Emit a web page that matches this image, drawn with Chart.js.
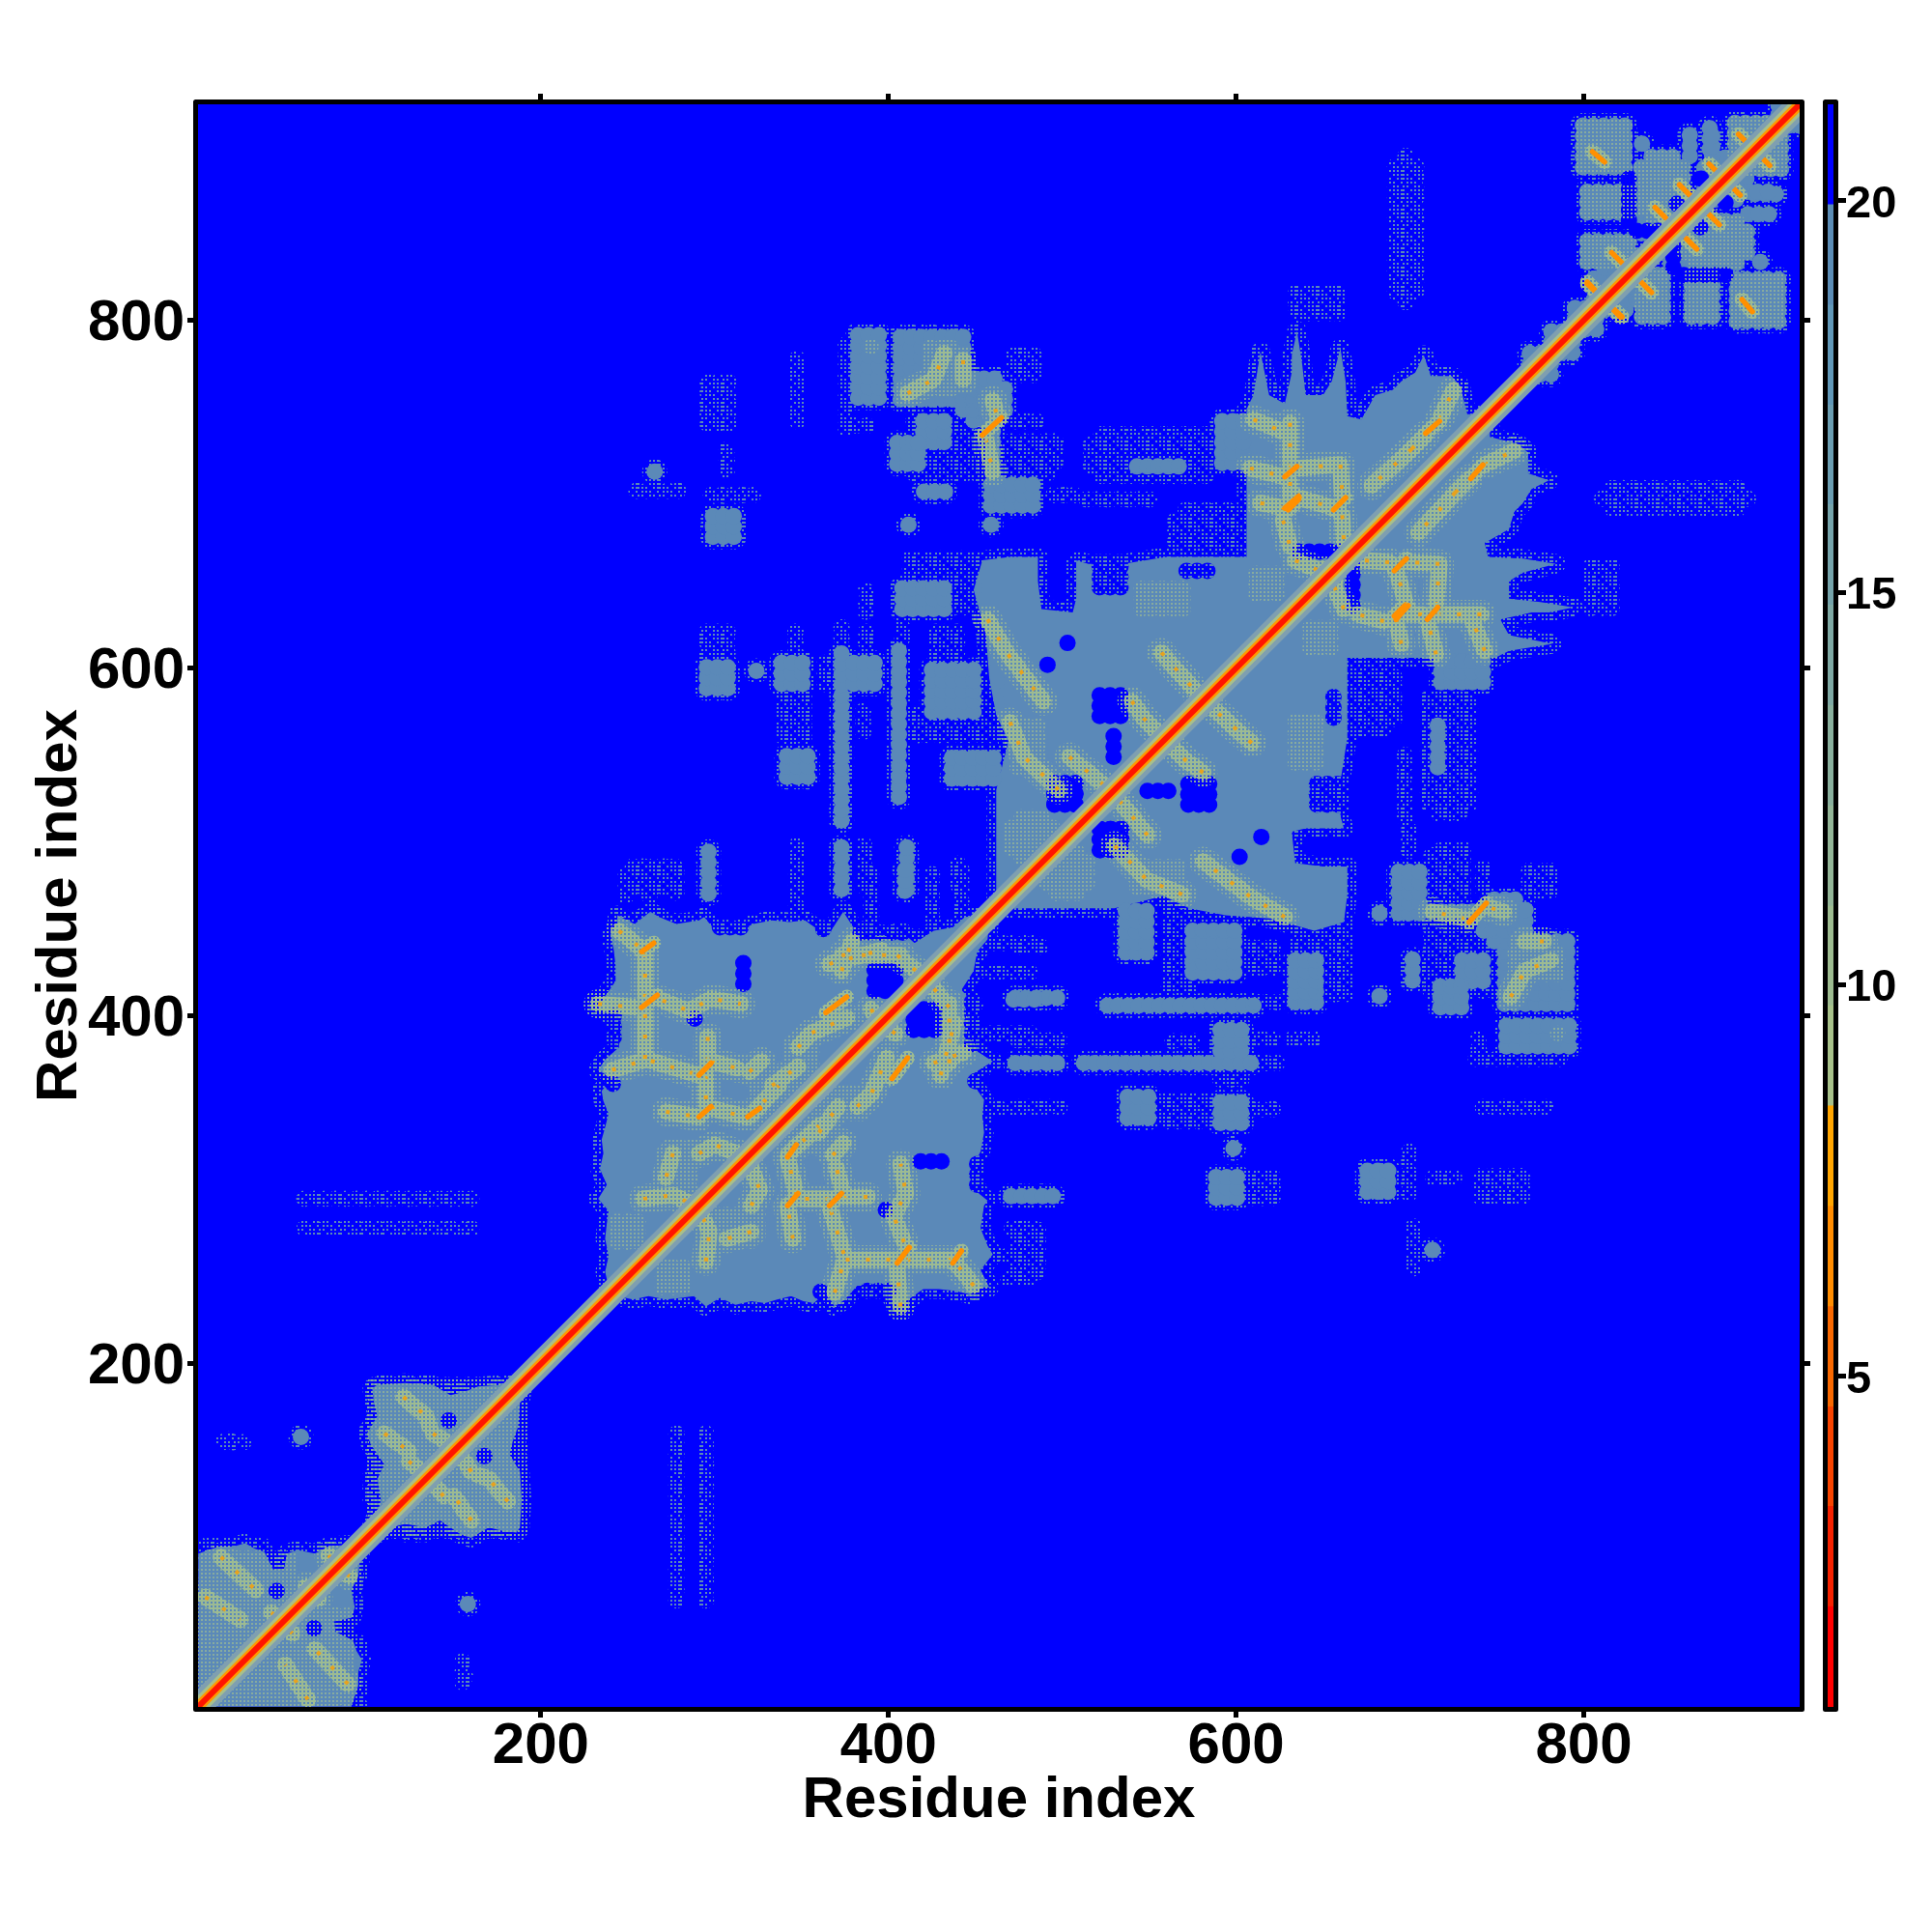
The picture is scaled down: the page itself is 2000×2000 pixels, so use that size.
<!DOCTYPE html>
<html>
<head>
<meta charset="utf-8">
<script src="https://cdn.jsdelivr.net/npm/chart.js@4/dist/chart.umd.min.js"></script>
<style>
  body { margin: 0; background: #fff; }
  #chartMapa { position: absolute; left: 0; top: 0; }
  #chartBarra { position: absolute; left: 1870px; top: 0; }
</style>
</head>
<body>
<canvas id="chartMapa" width="2000" height="2000"></canvas>
<canvas id="chartBarra" width="130" height="2000"></canvas>
<script>
// outlines of the big domains, x,y,x,y... above the diagonal (mirrored below)
const dominioA = [3,3, 3,91, 9,93, 15,95, 23,95, 30,97, 35,94, 41,92, 46,82, 52,81, 54,91, 60,93, 70,91, 78,95, 88,96, 96,96];
const dominioB = [100,100, 106,114, 108,122, 106,134, 110,142, 102,154, 100,160, 106,170, 104,178, 103,186, 106,188,
  122,189, 138,188, 148,182, 156,184, 164,187, 178,188, 190,190];
const dominioC = [240,240, 237,253, 239,262, 237,272, 238,281, 239,288, 233,295, 238,303, 234,312, 236,321, 235,329,
  237,336, 239,344, 236,351, 235,357, 241,364, 233,369, 237,375, 245,382, 245,392, 246,397, 233,405, 236,410, 243,420,
  243,429, 242,438, 240,447, 244,453, 244,458, 254,453, 263,460, 268,457, 278,453, 291,455, 294,457, 298,452, 306,449,
  315,449, 322,453, 333,455, 343,454, 352,455, 359,450, 367,449, 374,460, 381,449, 389,449, 400,445, 407,449, 415,442,
  426,449, 437,451, 444,457, 456,458];
const dominioF = [462,462, 462,490, 462,530, 469,558, 462,573, 458,594, 456,620, 449,645, 454,662, 470,664, 486,664,
  486,650, 488,634, 506,632, 508,640, 508,662, 515,660, 535,660, 560,664, 590,664, 606,664, 606,749, 610,757, 614,782,
  619,757, 628,752, 632,770, 632,780, 635,794, 638,775, 640,757, 650,757, 655,765, 660,784, 663,765, 664,745, 672,743,
  676,750, 680,757, 690,760, 695,765, 703,770, 708,780, 712,768, 724,768, 729,762, 733,746, 746,746];
// residue ranges of the smaller patches, [x0, x1, y0, y1], mirrored too
const denseBlocks = [
  [765,785,765,785], [780,795,780,795], [790,812,790,812],
  [797,826,884,916], [800,828,857,879], [802,826,832,847], [806,830,806,830],
  [831,859,858,894], [857,865,890,911], [830,837,897,906], [868,877,897,912],
  [883,915,888,915], [868,895,868,895], [842,870,832,870], [893,907,871,877], [912,924,912,924],
  [380,397,751,796], [405,445,751,794], [443,467,739,770], [456,464,709,739],
  [454,488,692,707], [420,433,696,707], [456,462,677,688], [294,316,673,690], [263,268,711,715],
  [420,432,730,742], [402,420,717,730], [409,414,677,688], [540,570,712,720], [590,606,718,742],
  [292,311,585,604], [320,328,593,604], [333,356,590,604], [369,377,511,610], [380,392,590,604],
  [401,411,526,610], [424,450,571,603], [435,462,533,552], [294,299,465,500], [369,377,470,500],
  [405,416,470,500], [341,354,534,553], [405,435,632,648], [404,415,472,484], [58,66,154,162]
];
const holeBlocks = [
  [44,52,66,73], [144,150,165,170],
  [300,318,447,455], [358,367,445,455], [382,410,443,453], [392,404,414,427], [313,320,418,431],
  [286,291,396,401], [238,246,388,400], [237,246,357,365],
  [521,534,572,585], [525,534,548,562], [491,512,522,534], [521,534,492,511],
  [488,495,598,606], [500,506,609,620], [520,535,645,660], [570,585,652,660],
  [636,660,665,669], [822,830,857,882], [850,857,864,870], [865,870,879,884], [830,843,847,856]
];
const sparseBlocks = [
  [92,100,3,40], [102,114,122,136], [238,246,388,400], [237,246,357,365],
  [300,318,447,455], [358,367,445,455], [382,410,443,453], [520,535,645,660], [570,585,652,660],
  [560,606,666,692], [490,512,694,705], [509,555,694,700], [515,590,705,740], [466,495,711,726],
  [371,380,737,787], [410,467,710,750], [467,488,764,785], [470,488,739,745], [456,500,715,734],
  [371,392,736,743], [294,310,739,766], [343,352,739,781], [303,311,711,728], [252,282,700,704], [298,322,697,702],
  [360,367,590,604], [339,352,555,590], [381,390,562,577], [413,469,560,575], [343,352,473,500],
  [382,390,473,500], [437,443,473,490], [248,282,474,486], [292,311,605,625], [343,350,605,625],
  [369,377,610,625], [382,392,605,625], [405,411,610,625], [427,440,605,625], [382,392,632,645],
  [435,452,632,650], [409,452,650,664], [450,462,573,600],
  [246,252,466,484], [260,265,466,484], [273,283,470,484], [342,352,455,484], [385,395,455,484],
  [420,430,455,484], [437,447,460,484], [690,705,810,895], [633,660,800,820],
  [62,162,293,297], [64,160,276,280], [13,33,153,157], [15,25,153,160], [60,70,74,78]
];
const latticeBlocks = [
  [3,90,3,60], [3,60,60,90], [104,188,104,188], [797,826,884,916], [800,828,857,879], [802,826,832,847],
  [831,859,858,894], [883,915,888,915], [239,261,268,284], [268,285,305,325], [470,490,540,570],
  [470,495,490,515], [545,570,630,650], [608,627,637,660], [385,395,780,790], [420,440,760,785],
  [320,340,342,362], [370,396,430,440], [270,290,300,326], [340,360,360,385]
];
// antiparallel contacts, bright orange short segments
const streaks = [
  [258,437,265,442], [258,405,267,412], [291,366,298,373], [291,342,298,348], [319,342,326,347], [364,402,376,411],
  [454,734,465,744], [628,710,635,716], [628,692,636,699], [656,691,663,698], [709,735,717,742], [630,691,636,697],
  [889,907,907,889], [872,890,890,872], [858,875,878,855], [841,865,847,859], [816,839,839,816], [802,821,822,802],
  [805,897,812,891]
];
// fainter contact ridges, polylines x,y,x,y...
const ridges = [
  [16,89,36,70], [7,66,27,53], [65,72,72,66], [78,90,84,80], [45,57,50,53],
  [121,181,134,170,136,164], [110,160,124,150], [138,160,152,151], [124,144,134,136],
  [245,449,259,438], [233,407,255,405], [270,409,285,403,298,410,315,407], [260,436,260,375],
  [241,369,261,375,291,366], [296,388,296,371], [298,374,313,370], [320,368,327,374], [272,345,291,342], [298,347,318,342],
  [295,366,295,349], [291,321,300,326,318,319], [276,321,272,307], [259,295,276,297,291,290],
  [348,382,355,390,376,399], [333,360,348,371], [320,342,337,360], [366,430,396,438], [405,435,422,421],
  [390,404,394,397], [373,435,407,435], [373,426,379,443], [457,628,468,609,489,581], [470,569,478,549,498,530],
  [504,549,525,532], [557,609,580,583], [540,581,547,571,559,559], [634,662,648,656,657,650],
  [610,743,627,736], [631,741,631,715], [608,715,628,710], [631,707,631,698], [614,695,628,692], [636,698,657,692],
  [660,717,661,700], [636,715,659,717], [661,688,662,673], [627,685,631,670],
  [701,726,709,734], [701,726,678,705], [717,743,725,760], [411,758,426,766,432,781], [443,777,443,766],
  [462,747,460,754], [456,732,460,713]
];
const xTicks = [200, 400, 600, 800];
const yTicks = [200, 400, 600, 800];
const barTicks = [5, 10, 15, 20];
const bandEdges = [0.78, 2.06, 3.34, 4.61, 5.89, 7.17, 8.45, 9.73, 11.0, 12.28, 13.56, 14.84, 16.12, 17.39, 18.67, 19.95, 21.23];
const bandColors = ['#ff0000', '#f52200', '#f84400', '#f86800', '#ff8c00', '#ffa500',
  '#a7c18a', '#9dbb90', '#93b597', '#89af9d', '#7fa9a4', '#75a3aa', '#6b9db1', '#6197b7', '#5b8cb5', '#0000ff'];

const AZUL = '#0000ff';
const ACO = '#5b89b8';

function criarTile(linhas, cor, px) {
  const c = document.createElement('canvas');
  c.width = linhas[0].length * px;
  c.height = linhas.length * px;
  const g = c.getContext('2d');
  g.fillStyle = cor;
  linhas.forEach((linha, j) => {
    [...linha].forEach((ch, i) => {
      if (ch === '#') g.fillRect(i * px, j * px, px, px);
    });
  });
  return g.createPattern(c, 'repeat');
}

const speckle = criarTile([
  '#.#...#.#.#',
  '...........',
  '#.#.#...#.#',
  '...........',
  '..#.#.#...#',
  '...........',
  '#.#...#.#..',
  '...........',
  '#...#.#.#.#',
  '...........'
], ACO, 2);

const lattice = criarTile([
  '#.',
  '..'
], '#87ab9f', 2);

const halo = criarTile([
  '##',
  '#.'
], '#9dbb92', 2);

// expand the read ranges into map cells, both sides of the diagonal
// narrow ranges are the spindle shaped patches of the map, so they taper
function celulas(blocos) {
  const pontos = [];
  blocos.forEach(([x0, x1, y0, y1]) => {
    const rx = (x1 - x0) / 2, ry = (y1 - y0) / 2;
    const cx = x0 + rx, cy = y0 + ry;
    const fuso = Math.min(rx, ry) < 20;
    for (let dx = -Math.floor(rx / 6) * 6; dx <= rx; dx += 6) {
      for (let dy = -Math.floor(ry / 6) * 6; dy <= ry; dy += 6) {
        if (fuso && (dx * dx) / ((rx + 3) * (rx + 3)) + (dy * dy) / ((ry + 3) * (ry + 3)) > 1) continue;
        pontos.push({x: cx + dx, y: cy + dy});
        pontos.push({x: cy + dy, y: cx + dx});
      }
    }
  });
  return pontos;
}

function linhas(listas) {
  const pontos = [];
  listas.forEach(l => {
    for (let i = 0; i < l.length; i += 2) pontos.push({x: l[i], y: l[i + 1]});
    pontos.push({x: NaN, y: NaN});
    for (let i = 0; i < l.length; i += 2) pontos.push({x: l[i + 1], y: l[i]});
    pontos.push({x: NaN, y: NaN});
  });
  return pontos;
}

// closed outline: one half of a domain, then back down its mirror image
function contorno(l) {
  const pontos = [];
  for (let i = 0; i < l.length; i += 2) pontos.push({x: l[i], y: l[i + 1]});
  for (let i = l.length - 2; i >= 0; i -= 2) pontos.push({x: l[i + 1], y: l[i]});
  pontos.push({x: l[0], y: l[1]});
  return pontos;
}

function camadaDominio(l) {
  return {type: 'scatter', data: contorno(l), showLine: true, fill: 'shape', backgroundColor: ACO,
    borderColor: speckle, borderWidth: 20, borderJoinStyle: 'round', pointRadius: 0, tension: 0, clip: 0};
}

function camadaPontos(dados, cor, raio, estilo) {
  return {type: 'scatter', data: dados, backgroundColor: cor, borderWidth: 0,
    pointRadius: raio, pointHoverRadius: raio, pointStyle: estilo, clip: 0};
}

function camadaLinha(dados, cor, largura, tracado) {
  return {type: 'scatter', data: dados, showLine: true, borderColor: cor, borderWidth: largura,
    borderDash: tracado || [], borderCapStyle: tracado ? 'butt' : 'round', borderJoinStyle: 'round',
    pointRadius: 0, clip: 0, spanGaps: false};
}

const diagonal = [{x: 2.8, y: 2.8}, {x: 924.2, y: 924.2}];

// first drawn = bottom layer; Chart.js paints dataset 0 last so reverse at the end
const camadas = [
  camadaPontos(celulas(denseBlocks), speckle, 13, 'circle'),
  camadaDominio(dominioA),
  camadaDominio(dominioB),
  camadaDominio(dominioC),
  camadaDominio(dominioF),
  camadaPontos(celulas(denseBlocks), ACO, 8.5, 'circle'),
  camadaPontos(celulas(holeBlocks), AZUL, 8.5, 'circle'),
  camadaPontos(celulas(sparseBlocks), speckle, 8.5, 'circle'),
  camadaPontos(celulas(latticeBlocks), lattice, 8, 'circle'),
  camadaLinha(linhas(ridges), lattice, 30),
  camadaLinha(linhas(ridges), halo, 17),
  camadaLinha(linhas(ridges), '#e8a21c', 4, [4, 17]),
  camadaLinha(linhas(streaks), halo, 15),
  camadaLinha(linhas(streaks), '#ff9000', 5.5),
  camadaLinha(diagonal, '#7f9fb0', 26),
  camadaLinha(diagonal, '#a8c08a', 17),
  camadaLinha(diagonal, '#ff9a00', 11),
  camadaLinha(diagonal, '#ff1500', 6)
].reverse();

const moldura = {
  id: 'moldura',
  beforeDatasetsDraw(chart) {
    const a = chart.chartArea;
    if (chart.canvas.id === 'chartMapa') {
      chart.ctx.fillStyle = AZUL;
      chart.ctx.fillRect(a.left, a.top, a.width, a.height);
    }
  },
  afterDraw(chart) {
    const a = chart.chartArea;
    const ctx = chart.ctx;
    ctx.save();
    ctx.strokeStyle = '#000';
    ctx.lineWidth = 5;
    ctx.lineJoin = 'round';
    ctx.strokeRect(a.left - 2.5, a.top - 2.5, a.width + 5, a.height + 5);
    ctx.restore();
  }
};

const fonte = {family: '"Liberation Sans"', weight: 'bold', size: 60, lineHeight: 1};
const grade = {drawOnChartArea: false, drawTicks: true, tickColor: '#000', tickWidth: 5, tickLength: 11};

function eixo(posicao, valores, tamanho, extra) {
  return Object.assign({
    type: 'linear', position: posicao, min: 2.8, max: 924.2,
    grid: grade, border: {display: false},
    afterBuildTicks: s => { s.ticks = valores.map(v => ({value: v})); },
    afterFit: s => {
      if (s.isHorizontal()) s.height = tamanho; else s.width = tamanho;
    }
  }, extra);
}

new Chart(document.getElementById('chartMapa').getContext('2d'), {
  type: 'scatter',
  data: {datasets: camadas},
  plugins: [moldura],
  options: {
    responsive: false,
    animation: false,
    devicePixelRatio: 1,
    events: [],
    layout: {padding: 0},
    plugins: {legend: {display: false}, tooltip: {enabled: false}},
    scales: {
      x: eixo('bottom', xTicks, 233, {
        ticks: {font: fonte, color: '#000', padding: 0, maxRotation: 0, autoSkip: false},
        title: {display: true, text: 'Residue index', font: fonte, color: '#000', padding: {top: 0, bottom: 106}}
      }),
      y: eixo('left', yTicks, 205, {
        // the empty first line nudges the label 4px down, as in the original
        ticks: {font: Object.assign({}, fonte, {lineHeight: '8px'}), color: '#000', padding: 3, autoSkip: false,
          callback: v => ['', String(v)]},
        title: {display: true, text: 'Residue index', font: fonte, color: '#000', padding: {top: 32, bottom: 0}}
      }),
      xTopo: eixo('top', xTicks, 108, {ticks: {display: false}}),
      yDir: eixo('right', yTicks, 137, {ticks: {display: false}})
    }
  }
});

new Chart(document.getElementById('chartBarra').getContext('2d'), {
  type: 'bar',
  data: {
    labels: ['cor'],
    datasets: bandColors.map((cor, i) => ({
      data: [[bandEdges[i], bandEdges[i + 1]]],
      backgroundColor: cor,
      barPercentage: 1,
      categoryPercentage: 1,
      grouped: false
    }))
  },
  plugins: [moldura],
  options: {
    responsive: false,
    animation: false,
    devicePixelRatio: 1,
    events: [],
    layout: {padding: {left: 22, top: 108, bottom: 233}},
    plugins: {legend: {display: false}, tooltip: {enabled: false}},
    scales: {
      x: {display: false},
      y: {
        position: 'right',
        min: 0.78,
        max: 21.23,
        grid: {drawOnChartArea: false, tickColor: '#000', tickWidth: 5, tickLength: 13},
        border: {display: false},
        ticks: {font: {family: '"Liberation Sans"', weight: 'bold', size: 47, lineHeight: '8px'}, color: '#000', padding: 0,
          callback: v => ['', String(v)]},
        afterBuildTicks: s => { s.ticks = barTicks.map(v => ({value: v})); },
        afterFit: s => { s.width = 102; }
      }
    }
  }
});
</script>
</body>
</html>
